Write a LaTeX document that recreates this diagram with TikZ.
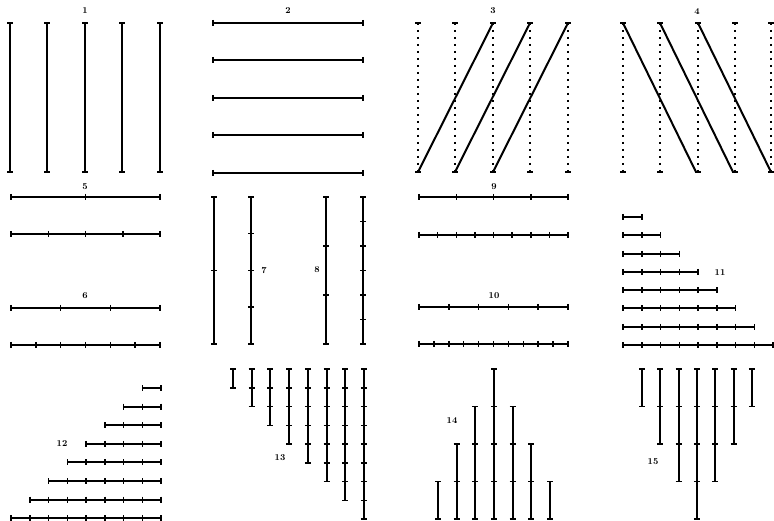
\documentclass[tikz,border=0pt]{standalone}

\newcommand{\htk}[2]{\draw[tk] (#1,#2-3) -- (#1,#2+3);}
\newcommand{\vtk}[2]{\draw[tk] (#1-3,#2) -- (#1+3,#2);}

\begin{document}
\begin{tikzpicture}[x=1pt, y=-1pt,
    seg/.style={line width=2pt},
    tk/.style={line width=1.5pt},
    guide/.style={line width=1.6pt, dash pattern=on 2pt off 5pt},
    num/.style={font=\small\bfseries, inner sep=0pt}]
    \useasboundingbox (0,0) rectangle (774,521);

    % --- 1 ---
    \node[num] (n1) at (85,11) {1};
    \foreach \x in {10,47,85,122,160} {
        \draw[seg] (\x,23) -- (\x,172);
        \vtk{\x}{23} \vtk{\x}{172}
    }

    % --- 2 ---
    \node[num] (n2) at (288,11) {2};
    \foreach \y in {23,60,98,135,173} {
        \draw[seg] (213,\y) -- (363,\y);
        \htk{213}{\y} \htk{363}{\y}
    }

    % --- 3 ---
    \node[num] (n3) at (493,11) {3};
    \foreach \x in {418,455,493,530,568} {
        \draw[guide] (\x,23) -- (\x,172);
        \vtk{\x}{23} \vtk{\x}{172}
    }
    \foreach \x in {418,455,493} \draw[seg] (\x,172) -- (\x+75,23);

    % --- 4 ---
    \node[num] (n4) at (697,12) {4};
    \foreach \x in {623,660,698,735,771} {
        \draw[guide] (\x,23) -- (\x,172);
        \vtk{\x}{23} \vtk{\x}{172}
    }
    \foreach \x in {623,660,698} \draw[seg] (\x,23) -- (\x+73,172);

    % --- 5 and 6 ---
    \node[num] (n5) at (85,187) {5};
    \node[num] (n6) at (85,296) {6};
    \foreach \y/\n in {197/2,234/4,308/3,345/6} {
        \draw[seg] (11,\y) -- (160,\y);
        \foreach \i in {0,...,\n} {\htk{11+149*\i/\n}{\y}}
    }

    % --- 7 and 8 ---
    \node[num] (n7) at (264,271) {7};
    \node[num] (n8) at (317,270) {8};
    \foreach \x/\n in {214/2,251/4,326/3,363/6} {
        \draw[seg] (\x,197) -- (\x,344);
        \foreach \i in {0,...,\n} {\vtk{\x}{197+147*\i/\n}}
    }

    % --- 9 and 10 ---
    \node[num] (n9) at (494,187) {9};
    \node[num] (n10) at (494,296) {10};
    \foreach \y/\n in {197/4,235/8,307/5,344/10} {
        \draw[seg] (419,\y) -- (568,\y);
        \foreach \i in {0,...,\n} {\htk{419+149*\i/\n}{\y}}
    }

    % --- 11 ---
    \node[num] (n11) at (720,273) {11};
    \foreach \k in {1,...,8} {
        \pgfmathsetmacro\yy{217+(\k-1)*18.3}
        \draw[seg] (623,\yy) -- (623+18.75*\k,\yy);
        \foreach \i in {0,...,\k} {\htk{623+18.75*\i}{\yy}}
    }

    % --- 12 ---
    \node[num] (n12) at (62,444) {12};
    \foreach \k in {1,...,8} {
        \pgfmathsetmacro\yy{388+(\k-1)*18.6}
        \draw[seg] (161-18.75*\k,\yy) -- (161,\yy);
        \foreach \i in {0,...,\k} {\htk{161-18.75*\i}{\yy}}
    }

    % --- 13 ---
    \node[num] (n13) at (280,458) {13};
    \foreach \k in {1,...,8} {
        \pgfmathsetmacro\xx{233+(\k-1)*18.7}
        \draw[seg] (\xx,369) -- (\xx,369+18.75*\k);
        \foreach \i in {0,...,\k} {\vtk{\xx}{369+18.75*\i}}
    }

    % --- 14 ---
    \node[num] (n14) at (452,421) {14};
    \foreach \h [count=\c] in {2,4,6,8,6,4,2} {
        \pgfmathsetmacro\xx{438+(\c-1)*18.67}
        \pgfmathtruncatemacro\m{\h/2}
        \draw[seg] (\xx,519) -- (\xx,519-18.75*\h);
        \foreach \i in {0,...,\m} {\vtk{\xx}{519-37.5*\i}}
    }

    % --- 15 ---
    \node[num] (n15) at (653,462) {15};
    \foreach \h [count=\c] in {2,4,6,8,6,4,2} {
        \pgfmathsetmacro\xx{642+(\c-1)*18.33}
        \pgfmathtruncatemacro\m{\h/2}
        \draw[seg] (\xx,369) -- (\xx,369+18.75*\h);
        \foreach \i in {0,...,\m} {\vtk{\xx}{369+37.5*\i}}
    }
\end{tikzpicture}
\end{document}
